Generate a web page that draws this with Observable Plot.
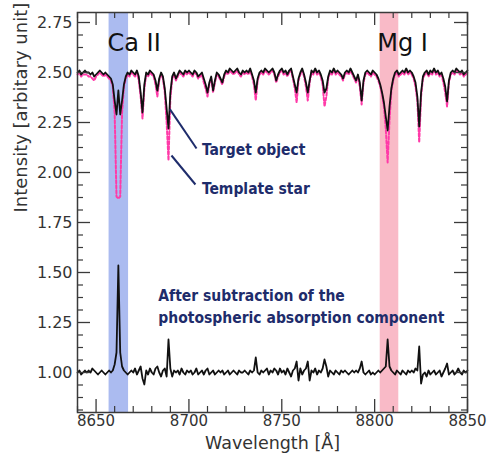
<!DOCTYPE html>
<html>
<head>
<meta charset="utf-8">
<script src="https://cdn.jsdelivr.net/npm/d3@7"></script>
<script src="https://cdn.jsdelivr.net/npm/@observablehq/plot@0.6"></script>
<style>
  html, body { margin: 0; padding: 0; background: #fff; }
  #chart svg { display: block; }
</style>
</head>
<body>
<div id="chart"></div>
<script>
// Wavelength grid (Å)
const wavelength = [
  8640,8641,8642,8643,8644,8645,8646,8647,8648,8649,
  8650,8651,8652,8653,8654,8655,8656,8657,8658,8659,
  8660,8661,8662,8663,8664,8665,8666,8667,8668,8669,
  8670,8671,8672,8673,8674,8675,8676,8677,8678,8679,
  8680,8681,8682,8683,8684,8685,8686,8687,8688,8689,
  8690,8691,8692,8693,8694,8695,8696,8697,8698,8699,
  8700,8701,8702,8703,8704,8705,8706,8707,8708,8709,
  8710,8711,8712,8713,8714,8715,8716,8717,8718,8719,
  8720,8721,8722,8723,8724,8725,8726,8727,8728,8729,
  8730,8731,8732,8733,8734,8735,8736,8737,8738,8739,
  8740,8741,8742,8743,8744,8745,8746,8747,8748,8749,
  8750,8751,8752,8753,8754,8755,8756,8757,8758,8759,
  8760,8761,8762,8763,8764,8765,8766,8767,8768,8769,
  8770,8771,8772,8773,8774,8775,8776,8777,8778,8779,
  8780,8781,8782,8783,8784,8785,8786,8787,8788,8789,
  8790,8791,8792,8793,8794,8795,8796,8797,8798,8799,
  8800,8801,8802,8803,8804,8805,8806,8807,8808,8809,
  8810,8811,8812,8813,8814,8815,8816,8817,8818,8819,
  8820,8821,8822,8823,8824,8825,8826,8827,8828,8829,
  8830,8831,8832,8833,8834,8835,8836,8837,8838,8839,
  8840,8841,8842,8843,8844,8845,8846,8847,8848,8849,8850
];
// Target object spectrum (offset to ~2.5)
const targetFlux = [
  2.50,2.51,2.49,2.50,2.51,2.50,2.50,2.49,2.50,2.48,
  2.49,2.50,2.51,2.50,2.49,2.50,2.49,2.48,2.47,2.44,
  2.36,2.29,2.41,2.29,2.36,2.44,2.48,2.50,2.49,2.51,
  2.50,2.49,2.51,2.48,2.40,2.30,2.44,2.50,2.49,2.51,
  2.50,2.49,2.46,2.41,2.47,2.50,2.48,2.42,2.32,2.22,
  2.40,2.48,2.50,2.47,2.49,2.51,2.50,2.49,2.51,2.50,
  2.51,2.50,2.49,2.51,2.50,2.48,2.49,2.50,2.47,2.44,
  2.40,2.45,2.48,2.41,2.46,2.50,2.49,2.47,2.45,2.49,
  2.51,2.50,2.52,2.51,2.50,2.51,2.52,2.50,2.49,2.51,
  2.50,2.51,2.50,2.52,2.49,2.46,2.40,2.47,2.50,2.51,
  2.50,2.52,2.51,2.50,2.51,2.52,2.50,2.46,2.49,2.51,
  2.52,2.50,2.51,2.49,2.51,2.52,2.48,2.44,2.40,2.47,
  2.50,2.52,2.49,2.45,2.40,2.46,2.51,2.50,2.52,2.50,
  2.51,2.49,2.46,2.40,2.42,2.48,2.51,2.50,2.52,2.50,
  2.51,2.50,2.49,2.47,2.50,2.51,2.50,2.52,2.50,2.48,
  2.46,2.49,2.45,2.36,2.46,2.50,2.51,2.50,2.49,2.51,
  2.50,2.49,2.47,2.44,2.40,2.35,2.28,2.21,2.33,2.42,
  2.47,2.50,2.51,2.49,2.50,2.51,2.50,2.52,2.50,2.51,
  2.50,2.48,2.45,2.38,2.23,2.40,2.48,2.50,2.51,2.49,
  2.51,2.50,2.52,2.50,2.51,2.49,2.50,2.47,2.43,2.355,
  2.46,2.50,2.51,2.50,2.52,2.51,2.50,2.51,2.49,2.50,2.51
];
// Template star spectrum
const templateFlux = [
  2.49,2.50,2.48,2.49,2.49,2.49,2.48,2.48,2.47,2.46,
  2.48,2.49,2.50,2.49,2.48,2.49,2.48,2.47,2.46,2.43,
  2.30,1.88,1.87,1.88,2.30,2.43,2.47,2.49,2.48,2.50,
  2.49,2.48,2.50,2.46,2.38,2.27,2.42,2.49,2.48,2.50,
  2.49,2.48,2.44,2.38,2.46,2.49,2.47,2.40,2.25,2.06,
  2.37,2.47,2.49,2.46,2.48,2.50,2.49,2.48,2.50,2.49,
  2.50,2.49,2.48,2.50,2.49,2.47,2.48,2.49,2.45,2.42,
  2.38,2.44,2.47,2.40,2.45,2.49,2.48,2.46,2.44,2.48,
  2.50,2.49,2.51,2.50,2.49,2.50,2.51,2.49,2.48,2.50,
  2.49,2.50,2.49,2.51,2.48,2.44,2.36,2.46,2.49,2.50,
  2.49,2.51,2.50,2.49,2.50,2.51,2.49,2.45,2.48,2.50,
  2.51,2.49,2.50,2.48,2.50,2.51,2.47,2.42,2.35,2.46,
  2.49,2.51,2.48,2.43,2.36,2.45,2.50,2.49,2.51,2.49,
  2.50,2.48,2.44,2.33,2.38,2.47,2.50,2.49,2.51,2.49,
  2.50,2.49,2.48,2.46,2.49,2.50,2.49,2.51,2.49,2.47,
  2.45,2.48,2.43,2.34,2.45,2.49,2.50,2.49,2.48,2.50,
  2.49,2.48,2.46,2.43,2.39,2.33,2.22,2.05,2.26,2.41,
  2.46,2.49,2.50,2.48,2.49,2.50,2.49,2.51,2.49,2.50,
  2.49,2.47,2.43,2.36,2.15,2.38,2.47,2.49,2.50,2.48,
  2.50,2.49,2.51,2.49,2.50,2.48,2.49,2.45,2.40,2.33,
  2.45,2.49,2.50,2.49,2.51,2.50,2.49,2.50,2.48,2.49,2.50
];
// Residual after subtraction of the photospheric absorption component
const residualFlux = [
  1.00,1.01,0.99,1.00,1.01,1.00,1.01,1.00,1.02,1.01,
  1.00,0.99,1.00,1.01,1.00,0.99,1.00,1.01,1.00,1.01,
  1.04,1.10,1.535,1.10,1.03,1.01,1.00,0.99,1.00,1.01,
  1.00,1.02,0.99,1.01,1.03,0.97,0.94,1.01,0.99,1.02,
  1.00,0.99,1.02,1.03,1.00,0.98,1.01,1.02,0.98,1.165,
  1.02,0.98,1.01,1.00,1.01,0.99,1.02,1.00,0.99,1.01,
  1.00,1.01,0.99,1.00,1.02,0.99,1.00,1.01,0.99,1.01,
  1.02,0.99,1.00,1.01,0.99,1.00,1.01,1.00,1.01,0.99,
  1.00,1.01,0.99,1.00,1.01,1.00,0.99,1.01,1.00,1.00,
  1.01,1.00,0.99,1.01,1.00,1.01,1.075,1.00,0.99,1.01,
  1.00,1.01,1.02,0.99,1.01,1.00,1.02,1.01,0.99,1.02,
  1.00,1.01,0.99,1.02,1.00,0.98,1.01,1.02,1.055,0.96,
  1.02,0.99,1.01,1.02,1.055,0.96,1.01,1.00,1.02,0.99,
  1.01,1.00,1.02,1.065,1.03,0.98,1.01,1.00,0.99,1.01,
  1.00,0.99,1.01,1.00,1.01,1.00,0.99,1.00,1.01,1.00,
  1.01,1.00,1.02,1.055,1.00,0.99,1.00,1.01,0.99,1.00,
  0.99,1.00,1.01,1.00,1.01,1.02,1.03,1.165,1.03,1.01,
  1.00,0.99,1.01,1.00,0.99,1.01,1.00,0.99,1.01,1.00,
  1.01,1.00,1.02,1.01,1.13,0.945,0.99,1.00,0.98,1.01,
  0.99,1.00,1.01,0.99,1.00,1.01,0.98,1.00,1.02,1.045,
  0.99,1.00,1.01,0.99,1.00,1.02,1.00,0.99,1.01,1.00,1.01
];

// Highlighted line bands
const bandNames = ["Ca II", "Mg I"];
const bandStart = [8657, 8803];
const bandEnd = [8667.5, 8813];
const bandColors = ["#abbbf0", "#f9bac7"];
const bandLabelX = [8670.5, 8815];
const bandLabelY = [2.645, 2.645];

// Annotations
const noteTexts = ["Target object", "Template star", "After subtraction of the", "photospheric absorption component"];
const noteX = [8707, 8707, 8683.5, 8683.5];
const noteY = [2.11, 1.915, 1.38, 1.27];
const leaderX1 = [8689.7, 8690.6];
const leaderY1 = [2.317, 2.085];
const leaderX2 = [8704.1, 8703.5];
const leaderY2 = [2.12, 1.94];

// Axis ticks
const xTicks = [8650, 8700, 8750, 8800, 8850];
const yTicks = [1.00, 1.25, 1.50, 1.75, 2.00, 2.25, 2.50, 2.75];
const xMinorTicks = d3.range(8640, 8851, 10).filter(v => !xTicks.includes(v));
const yMinorTicks = d3.range(0.8125, 2.8, 0.0625).filter(v => Math.abs((v * 4) - Math.round(v * 4)) > 1e-6);

const spectra = wavelength.map((w, i) => ({w, t: targetFlux[i], p: templateFlux[i], r: residualFlux[i]}));
const bands = bandNames.map((n, i) => ({n, x1: bandStart[i], x2: bandEnd[i], c: bandColors[i], lx: bandLabelX[i], ly: bandLabelY[i]}));
const notes = noteTexts.map((t, i) => ({t, x: noteX[i], y: noteY[i]}));
const leaders = leaderX1.map((x, i) => ({x1: x, y1: leaderY1[i], x2: leaderX2[i], y2: leaderY2[i]}));

const W = 488, H = 461, mT = 12, mB = 49, mL = 77, mR = 21;
const innerH = H - mT - mB, innerW = W - mL - mR;
const majorLen = 13, minorLen = 6;
const frameColor = "#3a3a3a";
const navy = "#1e2c6b";

const chart = Plot.plot({
  width: W, height: H,
  marginTop: mT, marginBottom: mB, marginLeft: mL, marginRight: mR,
  style: {fontFamily: "DejaVu Sans", background: "#fff", color: "#333"},
  x: {domain: [8640, 8850]},
  y: {domain: [0.8, 2.8]},
  marks: [
    Plot.rectX(bands, {x1: "x1", x2: "x2", fill: "c"}),
    Plot.line(spectra, {x: "w", y: "p", stroke: "#ff3aa8", strokeWidth: 2, strokeDasharray: "3,2"}),
    Plot.line(spectra, {x: "w", y: "t", stroke: "#111", strokeWidth: 1.8, strokeLinejoin: "round"}),
    Plot.line(spectra, {x: "w", y: "r", stroke: "#111", strokeWidth: 1.8, strokeLinejoin: "round"}),
    Plot.text(bands, {x: "lx", y: "ly", text: "n", fontSize: 24, fill: "#111", textAnchor: "middle"}),
    Plot.link(leaders, {x1: "x1", y1: "y1", x2: "x2", y2: "y2", stroke: navy, strokeWidth: 2}),
    Plot.text(notes, {x: "x", y: "y", text: "t", fontSize: 15.5, fill: navy, textAnchor: "start", fontWeight: "bold", fontFamily: "DejaVu Sans Condensed, DejaVu Sans"}),
    // inward ticks: bottom and top
    Plot.tickX(xTicks, {x: d => d, insetTop: innerH - majorLen, stroke: frameColor, strokeWidth: 1.3}),
    Plot.tickX(xTicks, {x: d => d, insetBottom: innerH - majorLen, stroke: frameColor, strokeWidth: 1.3}),
    Plot.tickX(xMinorTicks, {x: d => d, insetTop: innerH - minorLen, stroke: frameColor, strokeWidth: 1.2}),
    Plot.tickX(xMinorTicks, {x: d => d, insetBottom: innerH - minorLen, stroke: frameColor, strokeWidth: 1.2}),
    // inward ticks: left and right
    Plot.tickY(yTicks, {y: d => d, insetRight: innerW - majorLen, stroke: frameColor, strokeWidth: 1.3}),
    Plot.tickY(yTicks, {y: d => d, insetLeft: innerW - majorLen, stroke: frameColor, strokeWidth: 1.3}),
    Plot.tickY(yMinorTicks, {y: d => d, insetRight: innerW - minorLen, stroke: frameColor, strokeWidth: 1.2}),
    Plot.tickY(yMinorTicks, {y: d => d, insetLeft: innerW - minorLen, stroke: frameColor, strokeWidth: 1.2}),
    Plot.axisX({ticks: xTicks, tickSize: 0, tickPadding: 3, tickFormat: d => String(d), fontSize: 15, label: null, fill: "#333"}),
    Plot.axisY({ticks: yTicks, tickSize: 0, tickPadding: 5, tickFormat: d3.format(".2f"), fontSize: 16, label: null, fill: "#333"}),
    Plot.text(["Wavelength [Å]"], {frameAnchor: "bottom", dy: 36.5, text: d => d, fontSize: 17.5, fill: "#333"}),
    Plot.text(["Intensity [arbitary unit]"], {frameAnchor: "left", dx: -56, rotate: -90, text: d => d, fontSize: 18, fill: "#333"}),
    Plot.frame({stroke: frameColor, strokeWidth: 1.5})
  ]
});
document.getElementById("chart").appendChild(chart);
</script>
</body>
</html>
